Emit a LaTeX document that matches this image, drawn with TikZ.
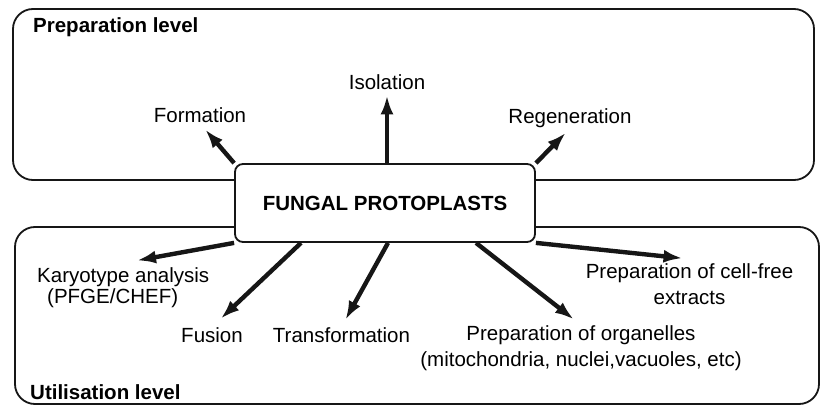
\documentclass[tikz,border=0pt]{standalone}
\usepackage{fontspec}
\setsansfont{Liberation Sans}
\usepackage{tikz}
\usetikzlibrary{arrows.meta,positioning,calc}
\definecolor{ink}{HTML}{161616}

\begin{document}
\begin{tikzpicture}[x=1pt, y=-1pt, font=\sffamily\fontsize{20.5}{26}\selectfont,
  level/.style={draw=ink, line width=1.8pt, rounded corners=20pt, inner sep=0pt},
  core/.style={draw=ink, line width=1.8pt, rounded corners=8pt, fill=white, minimum width=300pt, minimum height=78pt, font=\sffamily\bfseries\fontsize{20.5}{26}\selectfont},
  lbl/.style={inner sep=0pt, align=center},
  head/.style={inner sep=0pt, font=\sffamily\bfseries\fontsize{20.5}{26}\selectfont},
  arr/.style={-{Latex[length=19pt, width=13pt]}, line width=4.4pt, draw=ink}]
\useasboundingbox (0,0) rectangle (822,406);
% the two levels
\node[level, minimum width=801pt, minimum height=171pt] (prep) at (413.5,94.5) {};
\node[level, minimum width=804pt, minimum height=177pt] (util) at (417,315.5) {};
\node[head, anchor=base west] (pl) at (33,33) {Preparation level};
\node[head, anchor=base west] (ul) at (30,399) {Utilisation level};
\node[core] (c) at (385,203) {FUNGAL PROTOPLASTS};
% preparation
\node[lbl, anchor=base] (form) at (200,123) {Formation};
\node[lbl, anchor=base] (iso) at (387,90) {Isolation};
\node[lbl, anchor=base] (regen) at (570,124) {Regeneration};
\draw[arr, shorten >=8pt] (c.north west) -- (form.south);
\draw[arr, shorten >=5pt] (iso.south |- c.north) -- (iso.south);
\draw[arr, shorten >=6pt] (c.north east) -- (regen.south);
% utilisation
\node[lbl, align=left, anchor=north west] (karyo) at (37,267) {Karyotype analysis\\[-5pt]\hspace*{10pt}(PFGE/CHEF)};
\node[lbl, anchor=base] (fus) at (212,342) {Fusion};
\node[lbl, anchor=base] (trans) at (341.5,342) {Transformation};
\node[lbl, anchor=north] (org) at (581,325) {Preparation of organelles\\(mitochondria, nuclei,vacuoles, etc)};
\node[lbl, anchor=north] (cell) at (689.5,263) {Preparation of cell-free\\extracts};
\draw[arr, shorten >=14pt] (c.south west) -- ([yshift=4pt]karyo.north);
\draw[arr, shorten >=12pt] ([xshift=-84pt]c.south) -- (fus.north);
\draw[arr, shorten >=8pt] ([xshift=3pt]c.south) -- (trans.north);
\draw[arr, shorten >=9pt] ([xshift=91pt]c.south) -- (org.north);
\draw[arr, shorten >=7pt] (c.south east) -- ([yshift=4pt]cell.north);
\end{tikzpicture}
\end{document}
